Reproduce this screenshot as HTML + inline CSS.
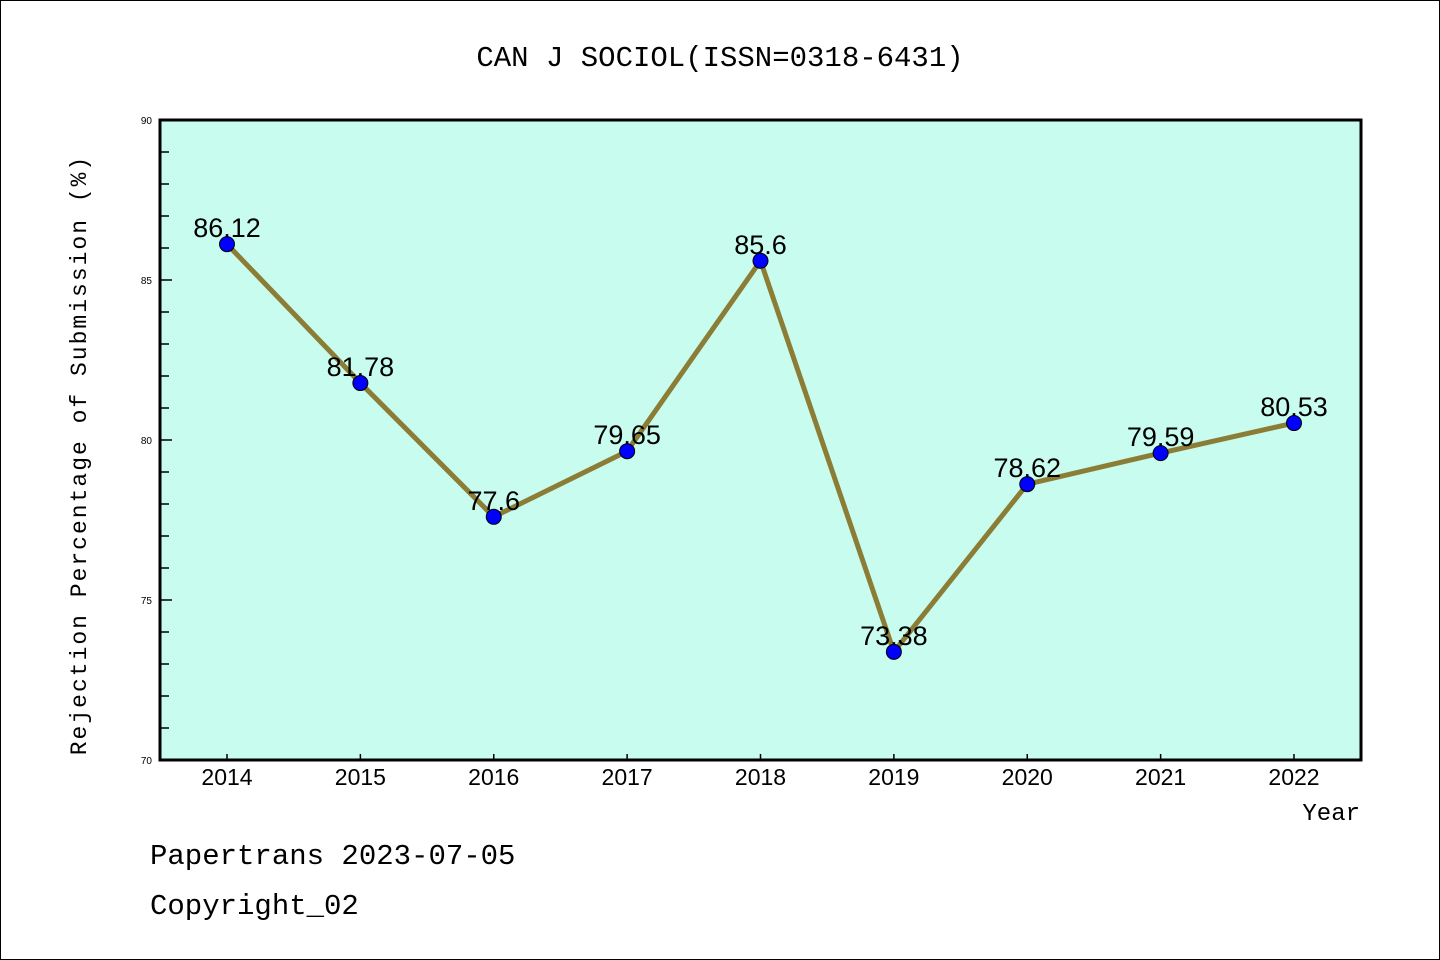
<!DOCTYPE html>
<html><head><meta charset="utf-8"><style>
html,body{margin:0;padding:0;background:#fff;}
svg{display:block;font-family:"Liberation Sans","Noto Sans CJK SC",sans-serif;}
</style></head><body>
<svg id="chart" width="1440" height="960" viewBox="0 0 1440 960">
<rect x="0.5" y="0.5" width="1439" height="959" fill="#fff" stroke="#000"/>
<text x="720" y="66" text-anchor="middle" font-size="29" font-family="Liberation Mono, monospace">CAN J SOCIOL(ISSN=0318-6431)</text>
<rect x="160" y="120" width="1201" height="640" fill="#c8fcee"/>
<g id="axes"></g>
<g id="marks"></g>
<rect x="160" y="120" width="1201" height="640" fill="none" stroke="#000" stroke-width="3"/>
<text x="86" y="455" transform="rotate(-90 86 455)" text-anchor="middle" font-size="23" font-family="Liberation Mono, monospace" letter-spacing="2">Rejection Percentage of Submission (%)</text>
<text x="1360" y="820" text-anchor="end" font-size="24" font-family="Liberation Mono, monospace">Year</text>
<text x="150" y="864" font-size="29" font-family="Liberation Mono, monospace">Papertrans 2023-07-05</text>
<text x="150" y="914" font-size="29" font-family="Liberation Mono, monospace">Copyright_02</text>
</svg>
<script>
const years = ["2014","2015","2016","2017","2018","2019","2020","2021","2022"];
const rates = [86.12,81.78,77.6,79.65,85.6,73.38,78.62,79.59,80.53];
const labels = ["86.12","81.78","77.6","79.65","85.6","73.38","78.62","79.59","80.53"];
const yTicks = [70,75,80,85,90];
const NS="http://www.w3.org/2000/svg";
const x0=227,dx=(1294-227)/8;
function xs(i){return x0+i*dx;}
function ys(v){return 760-(v-70)*32;}
function mk(t,a,p){const e=document.createElementNS(NS,t);for(const k in a)e.setAttribute(k,a[k]);p.appendChild(e);return e;}
const ax=document.getElementById('axes'),mg=document.getElementById('marks');
for(let v=70;v<=90;v++){
  const l=mk('line',{x1:160,x2:(v%5===0)?172:169,y1:ys(v),y2:ys(v),stroke:'#000','stroke-width':1.5},ax);
  
  
}
yTicks.forEach(v=>{
  const t=mk('text',{x:152,y:ys(v)+4,'text-anchor':'end','font-size':10},ax);
  t.textContent=v;
  
  
});
years.forEach((y,i)=>{
  const l=mk('line',{x1:xs(i),x2:xs(i),y1:760,y2:754,stroke:'#000','stroke-width':1.5},ax);
  
  
  const t=mk('text',{x:xs(i),y:785,'text-anchor':'middle','font-size':23},ax);
  t.textContent=y;
  
  
});
const pl=mk('polyline',{points:rates.map((v,i)=>xs(i)+','+ys(v)).join(' '),fill:'none',stroke:'#8b7d35','stroke-width':5,'stroke-linejoin':'round'},mg);


rates.forEach((v,i)=>{
  const c=mk('circle',{cx:xs(i),cy:ys(v),r:7.5,fill:'#0000ff',stroke:'#000','stroke-width':1},mg);
  
  
  const t=mk('text',{x:xs(i),y:ys(v)-7,'text-anchor':'middle','font-size':27},mg);
  t.textContent=labels[i];
  
  
});
</script>
</body></html>
